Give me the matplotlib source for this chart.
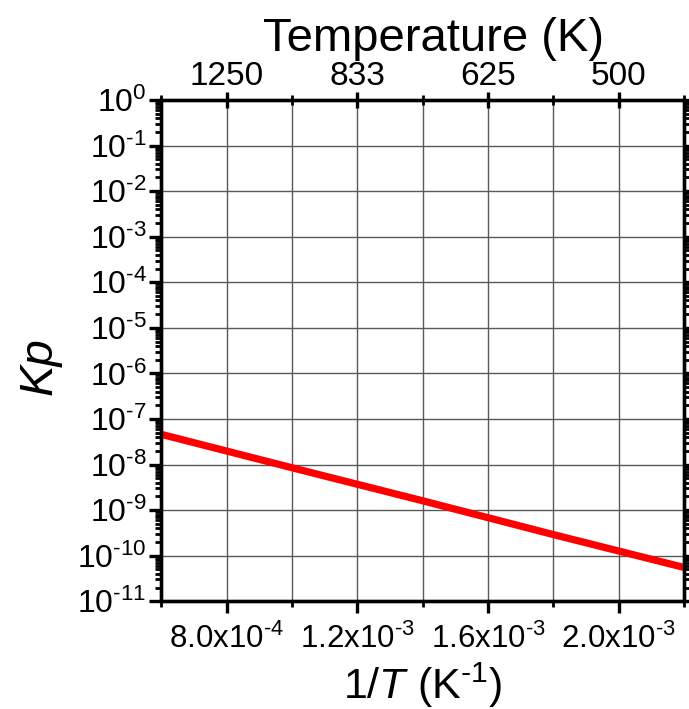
import matplotlib
matplotlib.use("Agg")
import matplotlib.pyplot as plt
from matplotlib.ticker import LogLocator, MultipleLocator, FixedLocator, NullFormatter

# data
inv_T = [6.0e-4, 1.0e-3, 1.4e-3, 1.8e-3, 2.2e-3]
kp = [4.6e-8, 8.5e-9, 1.6e-9, 2.9e-10, 5.5e-11]

x_ticks = [8.0e-4, 1.2e-3, 1.6e-3, 2.0e-3]
x_ticklabels = [r'$8.0\mathrm{x}10^{\text{-}4}$', r'$1.2\mathrm{x}10^{\text{-}3}$',
                r'$1.6\mathrm{x}10^{\text{-}3}$', r'$2.0\mathrm{x}10^{\text{-}3}$']
temp_labels = ['1250', '833', '625', '500']
y_exponents = list(range(-11, 1))

plt.rcParams['font.family'] = ['Liberation Sans', 'DejaVu Sans']
plt.rcParams['mathtext.fontset'] = 'custom'
plt.rcParams['mathtext.rm'] = 'Liberation Sans'
plt.rcParams['mathtext.it'] = 'Liberation Sans:italic'
plt.rcParams['mathtext.default'] = 'regular'

fig = plt.figure(figsize=(6.89, 7.09), dpi=100)
ax = fig.add_axes([0.234, 0.152, 0.759, 0.707])

ax.plot(inv_T, kp, color='#ff0000', lw=5.2, solid_capstyle='butt', zorder=3)

ax.set_yscale('log')
ax.set_xlim(6.0e-4, 2.2e-3)
ax.set_ylim(1e-11, 1e0)

ax.set_xticks(x_ticks)
ax.set_xticklabels(x_ticklabels)
ax.xaxis.set_minor_locator(MultipleLocator(2e-4))
ax.yaxis.set_major_locator(FixedLocator([10.0 ** e for e in y_exponents]))
ax.set_yticklabels([r'$10^{\text{-}%d}$' % -e if e < 0 else r'$10^{%d}$' % e
                    for e in y_exponents])
ax.yaxis.set_minor_locator(LogLocator(base=10, subs=range(2, 10), numticks=50))
ax.yaxis.set_minor_formatter(NullFormatter())

ax.grid(True, which='major', color='0.35', lw=1.0)
ax.grid(True, which='minor', axis='x', color='0.35', lw=1.0)

for s in ax.spines.values():
    s.set_linewidth(2.4)

ax.tick_params(axis='both', which='major', direction='out', length=8.5, width=2.4,
               right=True, top=False)
ax.tick_params(axis='both', which='minor', direction='out', length=4.5, width=2.0,
               right=True, top=False)
ax.tick_params(axis='x', which='major', labelsize=22.5, pad=8)
ax.tick_params(axis='y', which='major', labelsize=23, pad=2)

ax.set_xlabel(r'1/$\mathit{T}$ (K$^{\text{-}1}$)', fontsize=31, labelpad=4)
ax.set_ylabel('Kp', fontsize=34, style='italic')
ax.yaxis.set_label_coords(-0.19, 0.47)

ax2 = ax.twiny()
ax2.set_xlim(ax.get_xlim())
ax2.set_xticks(x_ticks)
ax2.set_xticklabels(temp_labels)
ax2.xaxis.set_minor_locator(MultipleLocator(2e-4))
ax2.tick_params(axis='x', which='major', direction='inout', length=12, width=2.4,
                labelsize=24, pad=0)
ax2.tick_params(axis='x', which='minor', direction='inout', length=7, width=2.0)
for s in ax2.spines.values():
    s.set_linewidth(2.4)
ax2.set_xlabel('Temperature (K)', fontsize=34, labelpad=0)
ax2.xaxis.set_label_coords(0.52, 1.098)

fig.savefig('out.png', dpi=100)
